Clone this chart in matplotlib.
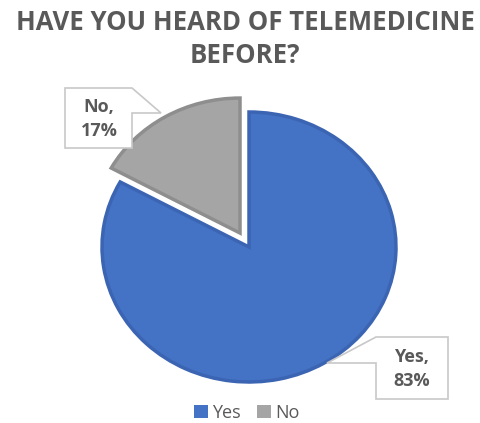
import matplotlib
matplotlib.use("Agg")
import matplotlib.pyplot as plt
from matplotlib.patches import Polygon, Patch

# Survey answers
categories = ["Yes", "No"]
shares = [83, 17]
colors = ["#4472C4", "#A5A5A5"]
edge_colors = ["#3B65B3", "#8E8E8E"]
title = "HAVE YOU HEARD OF TELEMEDICINE\nBEFORE?"
text_gray = "#595959"

W, H = 481, 423
fig = plt.figure(figsize=(W / 100, H / 100), dpi=100)

# Pie axes: the pie is slightly wider than tall
cx, cy, rx, ry = 249, 247, 147, 135
pie_ax = fig.add_axes([0, 0, 1, 1])
wedges, _ = pie_ax.pie(
    shares,
    colors=colors,
    startangle=90,
    counterclock=False,
    explode=[0, 0.12],
    radius=1,
    wedgeprops=dict(linewidth=2.5, joinstyle="miter"),
)
for w, ec in zip(wedges, edge_colors):
    w.set_edgecolor(ec)
pie_ax.set_aspect("auto")
pie_ax.set_xlim(-cx / rx, (W - cx) / rx)
pie_ax.set_ylim((cy - H) / ry, cy / ry)
pie_ax.axis("off")

# Overlay axes in pixel units for title, callouts and legend
ov = fig.add_axes([0, 0, 1, 1], facecolor="none")
ov.set_xlim(0, W)
ov.set_ylim(H, 0)
ov.axis("off")

ov.text(245, 39, title, ha="center", va="center", fontsize=18.5,
        fontweight="bold", color=text_gray, family="Open Sans",
        linespacing=1.3)

# Data label callouts
callouts = [
    dict(label=f"{categories[1]},\n{shares[1]}%",
         shape=[(65, 88), (132, 88), (161, 113), (132, 113), (132, 148), (65, 148)],
         center=(99, 119)),
    dict(label=f"{categories[0]},\n{shares[0]}%",
         shape=[(376, 337), (448, 337), (448, 399), (376, 399), (376, 363), (327, 363)],
         center=(412, 369)),
]
for c in callouts:
    ov.add_patch(Polygon(c["shape"], closed=True, facecolor="white",
                         edgecolor="#C8C8C8", linewidth=1.2, joinstyle="miter"))
    ov.text(*c["center"], c["label"], ha="center", va="center", fontsize=13,
            fontweight="bold", color=text_gray, family="Open Sans",
            linespacing=1.4)

handles = [Patch(facecolor=col, edgecolor="none") for col in colors]
leg = ov.legend(handles, categories, ncol=2, loc="center",
                bbox_to_anchor=(247 / W, 1 - 413 / H),
                bbox_transform=fig.transFigure, frameon=False,
                handlelength=0.75, handleheight=0.75, handletextpad=0.25,
                columnspacing=0.9, prop=dict(family="Open Sans", size=13))
for t in leg.get_texts():
    t.set_color(text_gray)

fig.savefig("out.png", dpi=100, facecolor="white")
